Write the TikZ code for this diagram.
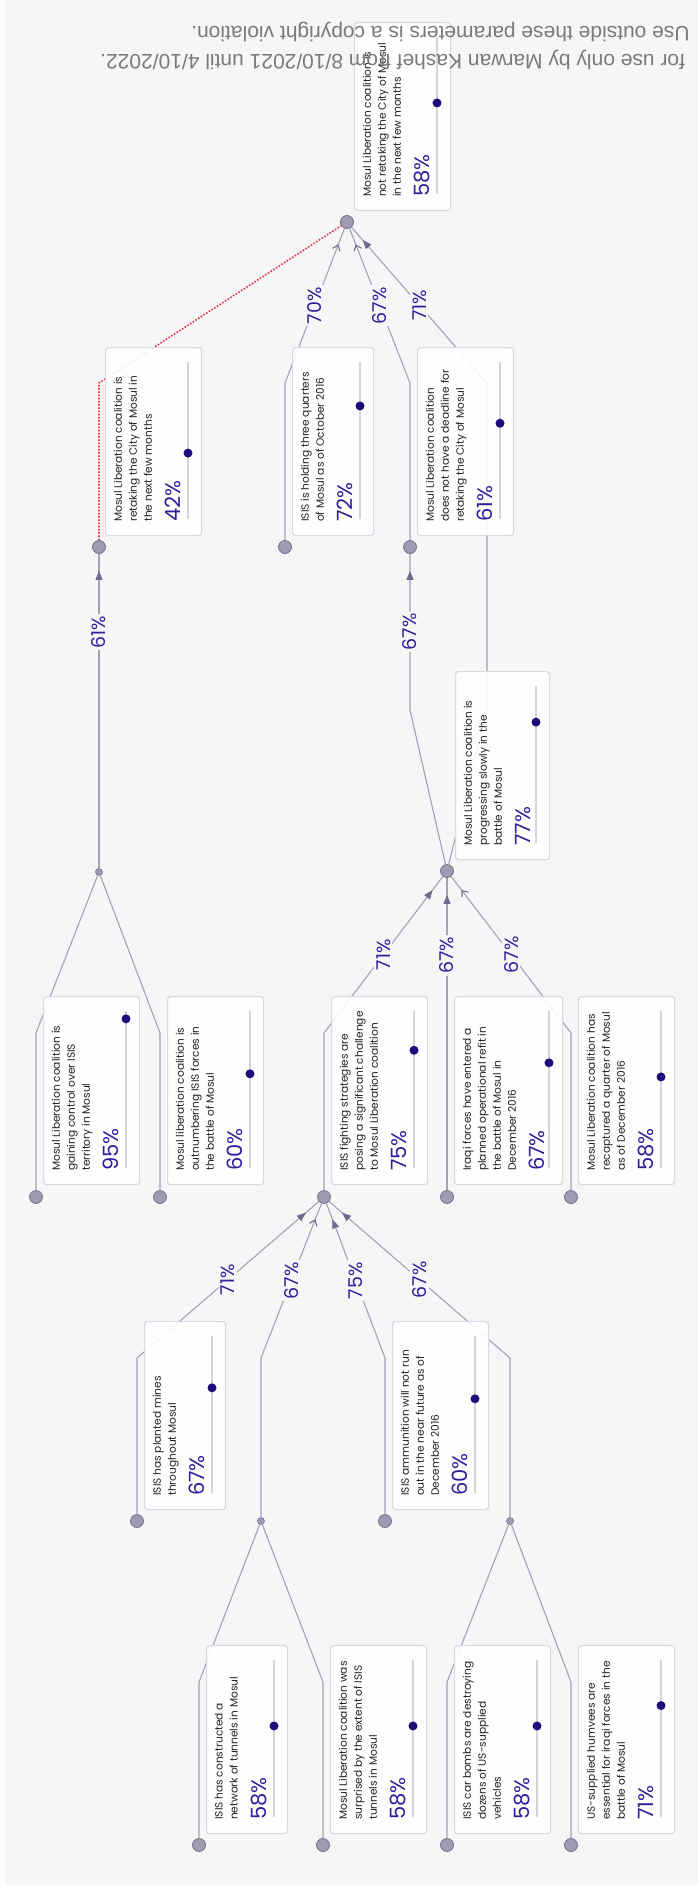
\documentclass[tikz,border=0pt]{standalone}
\usepackage{fontspec}
\usetikzlibrary{arrows.meta,decorations.markings}
\newfontfamily\cardfont{Poppins}
\newfontfamily\cpfont{Liberation Sans}
\definecolor{bgc}{HTML}{F6F6F6}
\definecolor{linec}{HTML}{A3A1BC}
\definecolor{arrowc}{HTML}{6E6C8E}
\definecolor{nodefill}{HTML}{9E9CB2}
\definecolor{nodedraw}{HTML}{75738C}
\definecolor{cardborder}{HTML}{D8D8E6}
\definecolor{textc}{HTML}{222222}
\definecolor{pctc}{HTML}{2F1E9E}
\definecolor{dotc}{HTML}{1E0C7C}
\definecolor{sliderc}{HTML}{D4D4DC}
\definecolor{redc}{HTML}{E8354C}
\definecolor{cpc}{HTML}{7A7A7A}
\tikzset{
 hub/.style={circle, fill=nodefill, draw=nodedraw, line width=0.8pt, minimum size=13pt, inner sep=0pt},
 junc/.style={circle, fill=nodefill, draw=nodedraw, line width=0.6pt, minimum size=7pt, inner sep=0pt},
 conn/.style={draw=linec, line width=1.1pt},
 reddot/.style={draw=redc, line width=1.6pt, dash pattern=on 1.6pt off 1.6pt},
 arrfill/.style={postaction={decorate}, decoration={markings, mark=at position -17pt with {\arrow{Triangle[length=9pt,width=7pt,color=arrowc]}}}},
 arropen/.style={postaction={decorate}, decoration={markings, mark=at position -17pt with {\arrow{Straight Barb[length=5pt,width=8pt,color=arrowc,line width=1.1pt]}}}},
 lbl/.style={rotate=90, fill=bgc, inner sep=2pt, text=pctc, font=\cardfont\fontsize{19}{19}\selectfont},
 cardbox/.style={draw=cardborder, fill=white, fill opacity=0.9, rounded corners=3pt, line width=1.2pt, minimum height=188pt, inner sep=0pt},
 cardtext/.style={rotate=90, align=left, inner sep=0pt, text=textc, font=\cardfont\fontsize{10.6}{15}\selectfont},
 pcttext/.style={rotate=90, inner sep=0pt, text=pctc, font=\cardfont\fontsize{21}{21}\selectfont},
 slider/.style={draw=sliderc, line width=2pt},
 cptext/.style={rotate=180, anchor=east, inner sep=0pt, text=cpc, font=\cpfont\fontsize{21}{21}\selectfont},
}
% #1 name, #2 left, #3 top, #4 width, #5 number of lines, #6 percent, #7 text
\newcommand\mkcard[7]{%
 \pgfmathsetmacro\myR{#2+#4-13}%
 \pgfmathsetmacro\myB{#3+188}%
 \node[cardbox, minimum width=#4pt, anchor=north west] (#1) at (#2,#3) {};
 \draw[slider] (\myR,{#3+15}) -- (\myR,{#3+172});
 \fill[dotc] (\myR,{#3+172-1.57*#6}) circle[radius=4.5pt];
 \node[cardtext, anchor=north west] (#1t) at ({#2+8.5},{\myB-13}) {#7};
 \node[pcttext, anchor=base west] (#1p) at ({#2+30+15*#5},{\myB-13}) {#6\%};
}
\begin{document}
\begin{tikzpicture}[x=1pt,y=-1pt]
\useasboundingbox (0,0) rectangle (698,1889);
\clip (0,0) rectangle (698,1889);
\fill[white] (0,0) rectangle (698,1889);
\fill[bgc] (5,0) rectangle (698,1885);
% hubs
\node[hub] (c0) at (347,222) {};
\node[hub] (cA) at (99,547) {};
\node[hub] (cB) at (285,547) {};
\node[hub] (cC) at (410,547) {};
\node[hub] (cD) at (447,871) {};
\node[junc] (j1) at (99,872) {};
\node[hub] (cE1) at (36,1197) {};
\node[hub] (cE2) at (160,1197) {};
\node[hub] (cE3) at (324,1197) {};
\node[hub] (cE4) at (447,1197) {};
\node[hub] (cE5) at (571,1197) {};
\node[hub] (cF1) at (137,1521) {};
\node[junc] (j2) at (261,1521) {};
\node[hub] (cF3) at (385,1521) {};
\node[junc] (j3) at (510,1521) {};
\node[hub] (cG1) at (199,1845) {};
\node[hub] (cG2) at (323,1845) {};
\node[hub] (cG3) at (447,1845) {};
\node[hub] (cG4) at (571,1845) {};
% bends
\coordinate (bA) at (99,383);
\coordinate (bB) at (285,383);
\coordinate (bC) at (410,383);
\coordinate (bD1) at (487,710);
\coordinate (bD2) at (487,383);
\coordinate (bJ1) at (99,710);
\coordinate (bDC) at (410,710);
\coordinate (bE1) at (36,1033);
\coordinate (bE2) at (160,1033);
\coordinate (bE3) at (324,1033);
\coordinate (bE4) at (447,1033);
\coordinate (bE5) at (571,1033);
\coordinate (bF1) at (137,1358);
\coordinate (bJ2) at (261,1358);
\coordinate (bF3) at (385,1358);
\coordinate (bJ3) at (510,1358);
\coordinate (bG1) at (199,1682);
\coordinate (bG2) at (323,1682);
\coordinate (bG3) at (447,1682);
\coordinate (bG4) at (571,1682);
% connectors
\draw[reddot] (cA) -- (bA) -- (c0);
\draw[conn, arropen] (cB) -- (bB) -- node[lbl, midway] (l1) {70\%} (c0);
\draw[conn, arropen] (cC) -- (bC) -- node[lbl, midway] (l2) {67\%} (c0);
\draw[conn, arrfill] (cD) -- (bD1) -- (bD2) -- node[lbl, midway] (l3) {71\%} (c0);
\draw[conn, arrfill] (j1) -- (bJ1) -- node[lbl, midway] (l4) {61\%} (cA);
\draw[conn, arrfill] (cD) -- (bDC) -- node[lbl, midway] (l5) {67\%} (cC);
\draw[conn, arrfill] (cE3) -- (bE3) -- node[lbl, midway] (l6) {71\%} (cD);
\draw[conn, arrfill] (cE4) -- (bE4) -- node[lbl, midway] (l7) {67\%} (cD);
\draw[conn, arropen] (cE5) -- (bE5) -- node[lbl, midway] (l8) {67\%} (cD);
\draw[conn] (cE1) -- (bE1) -- (j1);
\draw[conn] (cE2) -- (bE2) -- (j1);
\draw[conn, arrfill] (cF1) -- (bF1) -- node[lbl, midway] (l9) {71\%} (cE3);
\draw[conn, arropen] (j2) -- (bJ2) -- node[lbl, midway] (l10) {67\%} (cE3);
\draw[conn, arrfill] (cF3) -- (bF3) -- node[lbl, midway] (l11) {75\%} (cE3);
\draw[conn, arrfill] (j3) -- (bJ3) -- node[lbl, midway] (l12) {67\%} (cE3);
\draw[conn] (cG1) -- (bG1) -- (j2);
\draw[conn] (cG2) -- (bG2) -- (j2);
\draw[conn] (cG3) -- (bG3) -- (j3);
\draw[conn] (cG4) -- (bG4) -- (j3);
% cards
\mkcard{n0}{354}{22}{96}{3}{58}{Mosul Liberation coalition is\\not retaking the City of Mosul\\in the next few months}
\mkcard{nA}{105}{347}{96}{3}{42}{Mosul Liberation coalition is\\retaking the City of Mosul in\\the next few months}
\mkcard{nB}{292}{347}{81}{2}{72}{ISIS is holding three quarters\\of Mosul as of October 2016}
\mkcard{nC}{417}{347}{96}{3}{61}{Mosul Liberation coalition\\does not have a deadline for\\retaking the City of Mosul}
\mkcard{nD}{455}{671}{94}{3}{77}{Mosul Liberation coalition is\\progressing slowly in the\\battle of Mosul}
\mkcard{nE1}{43}{996}{96}{3}{95}{Mosul Liberation coalition is\\gaining control over ISIS\\territory in Mosul}
\mkcard{nE2}{167}{996}{96}{3}{60}{Mosul liberation coalition is\\outnumbering ISIS forces in\\the battle of Mosul}
\mkcard{nE3}{331}{996}{96}{3}{75}{ISIS fighting strategies are\\posing a significant challenge\\to Mosul Liberation coalition}
\mkcard{nE4}{454}{996}{108}{4}{67}{Iraqi forces have entered a\\planned operational refit in\\the battle of Mosul in\\December 2016}
\mkcard{nE5}{578}{996}{96}{3}{58}{Mosul Liberation coalition has\\recaptured a quarter of Mosul\\as of December 2016}
\mkcard{nF1}{144}{1321}{81}{2}{67}{ISIS has planted mines\\throughout Mosul}
\mkcard{nF3}{392}{1321}{96}{3}{60}{ISIS ammunition will not run\\out in the near future as of\\December 2016}
\mkcard{nG1}{206}{1645}{81}{2}{58}{ISIS has constructed a\\network of tunnels in Mosul}
\mkcard{nG2}{330}{1645}{96}{3}{58}{Mosul Liberation coalition was\\surprised by the extent of ISIS\\tunnels in Mosul}
\mkcard{nG3}{454}{1645}{96}{3}{58}{ISIS car bombs are destroying\\dozens of US-supplied\\vehicles}
\mkcard{nG4}{578}{1645}{96}{3}{71}{US-supplied humvees are\\essential for iraqi forces in the\\battle of Mosul}
% copyright
\node[cptext] (cp1) at (100,60) {for use only by Marwan Kashef from 8/10/2021 until 4/10/2022.};
\node[cptext] (cp2) at (191,32) {Use outside these parameters is a copyright violation.};
\end{tikzpicture}
\end{document}
